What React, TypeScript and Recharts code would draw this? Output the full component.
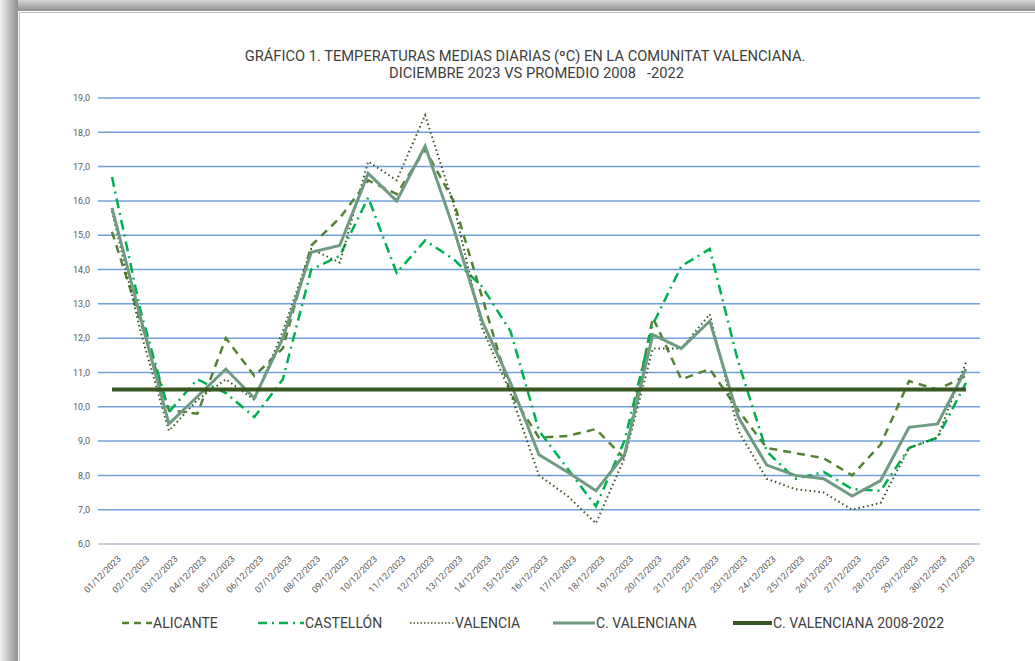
import React from 'react';
import { LineChart, Line, XAxis, YAxis, CartesianGrid } from 'recharts';

const days = [
  '01/12/2023', '02/12/2023', '03/12/2023', '04/12/2023', '05/12/2023', '06/12/2023', '07/12/2023',
  '08/12/2023', '09/12/2023', '10/12/2023', '11/12/2023', '12/12/2023', '13/12/2023', '14/12/2023',
  '15/12/2023', '16/12/2023', '17/12/2023', '18/12/2023', '19/12/2023', '20/12/2023', '21/12/2023',
  '22/12/2023', '23/12/2023', '24/12/2023', '25/12/2023', '26/12/2023', '27/12/2023', '28/12/2023',
  '29/12/2023', '30/12/2023', '31/12/2023',
];

const alicante = [
  15.1, 12.5, 9.9, 9.8, 12.0, 10.9, 11.7, 14.7, 15.5, 16.6, 16.2, 17.5, 16.0, 13.2, 10.4, 9.1,
  9.15, 9.35, 8.5, 12.6, 10.8, 11.1, 9.9, 8.8, 8.65, 8.5, 8.0, 8.9, 10.75, 10.5, 10.9,
];

const castellon = [
  16.7, 12.8, 9.85, 10.8, 10.4, 9.7, 10.8, 14.0, 14.4, 16.1, 13.9, 14.85, 14.3, 13.5, 12.2, 9.3,
  8.2, 7.1, 9.0, 12.4, 14.1, 14.6, 11.3, 8.7, 7.9, 8.1, 7.6, 7.55, 8.8, 9.1, 10.7,
];

const valencia = [
  15.7, 12.2, 9.3, 10.2, 10.8, 10.2, 12.2, 14.6, 14.2, 17.15, 16.6, 18.5, 15.9, 12.3, 10.4, 8.0,
  7.4, 6.6, 8.5, 11.7, 11.7, 12.7, 9.3, 7.9, 7.6, 7.5, 7.0, 7.2, 8.8, 9.1, 11.3,
];

const cValenciana = [
  15.8, 12.6, 9.5, 10.3, 11.1, 10.25, 12.0, 14.5, 14.7, 16.8, 16.0, 17.6, 15.2, 12.5, 10.7, 8.6,
  8.1, 7.55, 8.6, 12.1, 11.7, 12.5, 9.7, 8.3, 8.0, 7.9, 7.4, 7.85, 9.4, 9.5, 11.1,
];

const promedio = days.map(() => 10.5);

const yTicks = [6, 7, 8, 9, 10, 11, 12, 13, 14, 15, 16, 17, 18, 19];

const data = days.map((d, i) => ({
  day: d,
  alicante: alicante[i],
  castellon: castellon[i],
  valencia: valencia[i],
  cv: cValenciana[i],
  prom: promedio[i],
}));

const FONT = 'Roboto, "Liberation Sans", sans-serif';

const XTick = (props: any) => {
  const { x, y, payload } = props;
  const tx = x + 5;
  const ty = y + 3;
  return (
    <text
      x={tx}
      y={ty}
      transform={`rotate(-45, ${tx}, ${ty})`}
      textAnchor="end"
      dominantBaseline="hanging"
      fontSize={9}
      fill="#595959"
      fontFamily={FONT}
    >
      {payload.value}
    </text>
  );
};

const legendItems = [
  { label: 'ALICANTE', color: '#548235', dash: '7 5', width: 2.5, x: 122, w: 30 },
  { label: 'CASTELLÓN', color: '#00B050', dash: '9 5 2 5', width: 2.5, x: 258, w: 46 },
  { label: 'VALENCIA', color: '#375623', dash: '1.5 2', width: 1.5, x: 410, w: 44 },
  { label: 'C. VALENCIANA', color: '#6F9B82', dash: undefined, width: 3, x: 553, w: 42 },
  { label: 'C. VALENCIANA 2008-2022', color: '#375623', dash: undefined, width: 4, x: 733, w: 39 },
];

export default function App() {
  return (
    <div
      style={{
        position: 'fixed',
        left: 0,
        top: 0,
        width: 1035,
        height: 661,
        background: '#ffffff',
        overflow: 'hidden',
        fontFamily: FONT,
      }}
    >
      {/* frame shadow */}
      <div
        style={{
          position: 'absolute', left: 0, top: 0, width: 1035, height: 11,
          background: 'linear-gradient(to bottom, #d4d4d4, #8f8f8f)',
        }}
      />
      <div
        style={{
          position: 'absolute', left: 0, top: 0, width: 18, height: 661,
          background: 'linear-gradient(to right, #f0f0f0, #8f8f8f)',
        }}
      />
      <div
        style={{
          position: 'absolute', left: 19, top: 12, width: 1016, height: 649,
          borderLeft: '1px solid #bdbdbd', borderTop: '1px solid #bdbdbd', boxSizing: 'border-box',
        }}
      />

      <div
        style={{
          position: 'absolute', left: 0, top: 48, width: 1050, textAlign: 'center',
          fontSize: 14.7, color: '#404040', lineHeight: '17px', whiteSpace: 'pre',
        }}
      >
        {'GRÁFICO 1. TEMPERATURAS MEDIAS DIARIAS (ºC) EN LA COMUNITAT VALENCIANA.'}
      </div>
      <div
        style={{
          position: 'absolute', left: 0, top: 65, width: 1073, textAlign: 'center',
          fontSize: 14.7, color: '#404040', lineHeight: '17px', whiteSpace: 'pre',
        }}
      >
        {'DICIEMBRE 2023 VS PROMEDIO 2008   -2022'}
      </div>

      <div style={{ position: 'absolute', left: 0, top: 0 }}>
        <LineChart
          width={1035}
          height={661}
          data={data}
          margin={{ top: 98, right: 55, bottom: 0, left: 0 }}
        >
          <CartesianGrid vertical={false} stroke="#6FA1D8" strokeWidth={1.5} />
          <XAxis
            dataKey="day"
            interval={0}
            height={117}
            padding={{ left: 14, right: 14 }}
            tick={<XTick />}
            tickLine={false}
            axisLine={{ stroke: '#D9D9D9', strokeWidth: 1.5 }}
          />
          <YAxis
            domain={[6, 19]}
            ticks={yTicks}
            width={98}
            axisLine={false}
            tickLine={false}
            tickFormatter={(v: number) => v.toFixed(1).replace('.', ',')}
            tick={{ fontSize: 9, fill: '#595959', fontFamily: FONT }}
            tickMargin={2}
          />
          <Line dataKey="alicante" stroke="#548235" strokeWidth={2.5} strokeDasharray="8 6" dot={false} isAnimationActive={false} />
          <Line dataKey="castellon" stroke="#00B050" strokeWidth={2.5} strokeDasharray="10 5 2 5" dot={false} isAnimationActive={false} />
          <Line dataKey="valencia" stroke="#375623" strokeWidth={2} strokeDasharray="1.5 3" dot={false} isAnimationActive={false} />
          <Line dataKey="cv" stroke="#6F9B82" strokeWidth={3} dot={false} isAnimationActive={false} />
          <Line dataKey="prom" stroke="#375623" strokeWidth={4} dot={false} isAnimationActive={false} />
        </LineChart>
      </div>

      {legendItems.map((it) => (
        <div
          key={it.label}
          style={{
            position: 'absolute', left: it.x, top: 614, height: 18, display: 'flex', alignItems: 'center',
            fontSize: 14, color: '#404040', whiteSpace: 'pre',
          }}
        >
          <svg width={it.w} height={18} style={{ display: 'block' }}>
            <line x1={0} y1={9} x2={it.w} y2={9} stroke={it.color} strokeWidth={it.width} strokeDasharray={it.dash} />
          </svg>
          <span style={{ marginLeft: 1 }}>{it.label}</span>
        </div>
      ))}
    </div>
  );
}
